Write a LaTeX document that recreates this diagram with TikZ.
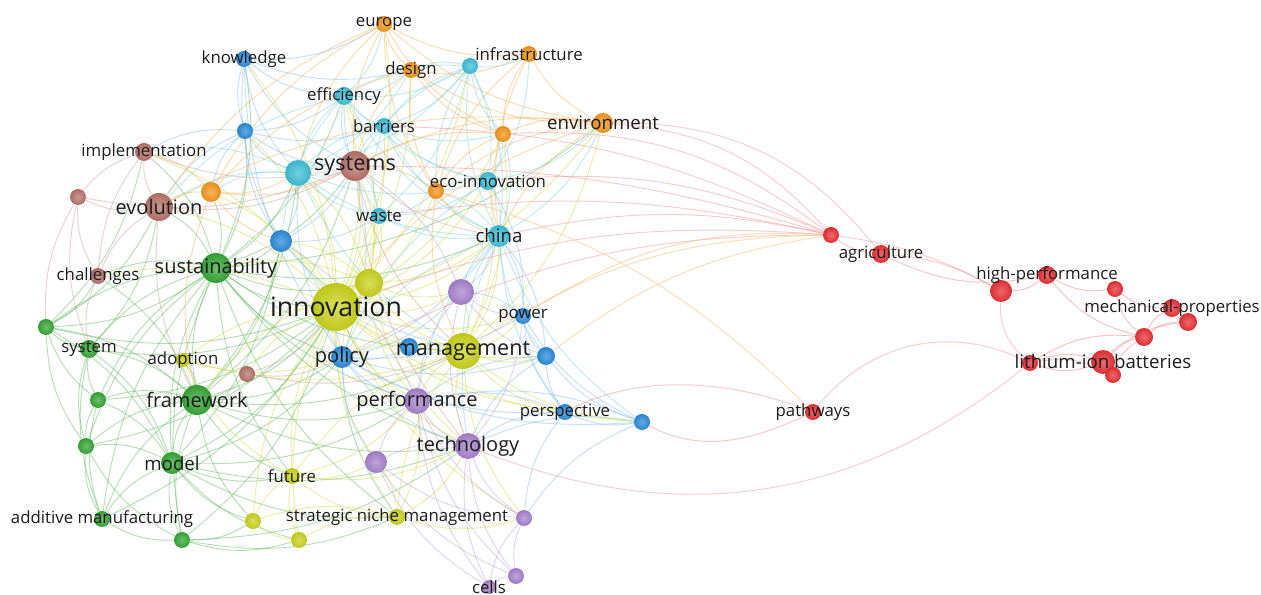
\documentclass[tikz,border=0pt]{standalone}
\usepackage{fontspec}
\setmainfont{Open Sans}
\usetikzlibrary{shadings}
\pgfdeclarelayer{bglayer}
\pgfdeclarelayer{edgelayer}
\pgfsetlayers{bglayer,edgelayer,main}
\definecolor{cRed}{HTML}{E63035}
\definecolor{cGreen}{HTML}{35A535}
\definecolor{cBlue}{HTML}{2A8AD8}
\definecolor{cYellow}{HTML}{C9D11C}
\definecolor{cPurple}{HTML}{A681CC}
\definecolor{cTeal}{HTML}{3EBDD6}
\definecolor{cOrange}{HTML}{F3961C}
\definecolor{cBrown}{HTML}{B6716A}
\definecolor{txt}{HTML}{1C1C1C}
\tikzset{
  bl/.style={circle, inner sep=0pt, draw=none, inner color=#1!72!white, outer color=#1!95!black},
  sz/.style={minimum size=#1*1.5pt},
  lbl/.style={text=txt, inner sep=0pt, anchor=center},
  lS/.style={lbl, font=\fontsize{12.6pt}{14pt}\selectfont},
  lM/.style={lbl, font=\fontsize{14pt}{16pt}\selectfont},
  lB/.style={lbl, font=\fontsize{15pt}{17pt}\selectfont},
  lL/.style={lbl, font=\fontsize{16.2pt}{18pt}\selectfont},
  lX/.style={lbl, font=\fontsize{20pt}{22pt}\selectfont},
  lnk/.style={draw=#1, line width=0.7pt, opacity=0.45},
}
\begin{document}
\begin{tikzpicture}[x=0.75pt, y=-0.75pt]
\begin{pgfonlayer}{bglayer}
\fill[white] (0,0) rectangle (1261,595);
\end{pgfonlayer}
\useasboundingbox (0,0) rectangle (1261,595);
% ---------------- nodes ----------------
% orange
\node[bl=cOrange, sz=8] (europe) at (384,24) {};
\node[bl=cOrange, sz=8] (design) at (411,70) {};
\node[bl=cOrange, sz=8] (infra) at (529,54) {};
\node[bl=cOrange, sz=10] (environ) at (603,123) {};
\node[bl=cOrange, sz=8] (o1) at (503,134) {};
\node[bl=cOrange, sz=8] (o2) at (436,191) {};
\node[bl=cOrange, sz=10] (o3) at (211,192) {};
% teal
\node[bl=cTeal, sz=8] (tinfra) at (470,66) {};
\node[bl=cTeal, sz=9] (effic) at (344,96) {};
\node[bl=cTeal, sz=8] (barriers) at (384,126) {};
\node[bl=cTeal, sz=13] (t1) at (298,173) {};
\node[bl=cTeal, sz=8] (waste) at (379,216) {};
\node[bl=cTeal, sz=11] (china) at (499,236) {};
\node[bl=cTeal, sz=9] (ecoinn) at (488,181) {};
% blue
\node[bl=cBlue, sz=8] (knowl) at (244,59) {};
\node[bl=cBlue, sz=8] (b1) at (245,131) {};
\node[bl=cBlue, sz=11] (b2) at (281,241) {};
\node[bl=cBlue, sz=11] (policy) at (342,357) {};
\node[bl=cBlue, sz=9] (b3) at (409,347) {};
\node[bl=cBlue, sz=8] (power) at (523,316) {};
\node[bl=cBlue, sz=9] (b4) at (546,356) {};
\node[bl=cBlue, sz=8] (persp) at (565,412) {};
\node[bl=cBlue, sz=8] (b5) at (642,422) {};
% brown
\node[bl=cBrown, sz=9] (impl) at (144,152) {};
\node[bl=cBrown, sz=8] (br1) at (78,197) {};
\node[bl=cBrown, sz=14] (evol) at (159,207) {};
\node[bl=cBrown, sz=8] (challenges) at (98,276) {};
\node[bl=cBrown, sz=8] (br2) at (247,374) {};
\node[bl=cBrown, sz=15] (systems) at (355,166) {};
% green
\node[bl=cGreen, sz=15] (sustain) at (216,268) {};
\node[bl=cGreen, sz=8] (g1) at (46,327) {};
\node[bl=cGreen, sz=9] (system) at (89,349) {};
\node[bl=cGreen, sz=8] (g2) at (98,400) {};
\node[bl=cGreen, sz=15] (framework) at (197,400) {};
\node[bl=cGreen, sz=8] (g3) at (86,446) {};
\node[bl=cGreen, sz=11] (model) at (172,463) {};
\node[bl=cGreen, sz=8] (additive) at (102,519) {};
\node[bl=cGreen, sz=8] (g4) at (182,540) {};
% yellow
\node[bl=cYellow, sz=24] (innov) at (336,307) {};
\node[bl=cYellow, sz=14] (y1) at (369,283) {};
\node[bl=cYellow, sz=7] (adoption) at (183,360) {};
\node[bl=cYellow, sz=18] (manage) at (463,351) {};
\node[bl=cYellow, sz=8] (future) at (292,476) {};
\node[bl=cYellow, sz=8] (y2) at (253,521) {};
\node[bl=cYellow, sz=8] (y3) at (299,540) {};
\node[bl=cYellow, sz=8] (snm) at (397,517) {};
% purple
\node[bl=cPurple, sz=13] (p1) at (461,292) {};
\node[bl=cPurple, sz=13] (perf) at (417,401) {};
\node[bl=cPurple, sz=13] (tech) at (468,446) {};
\node[bl=cPurple, sz=11] (p2) at (376,462) {};
\node[bl=cPurple, sz=8] (p3) at (524,518) {};
\node[bl=cPurple, sz=8] (p4) at (516,576) {};
\node[bl=cPurple, sz=7] (cells) at (489,587) {};
% red
\node[bl=cRed, sz=8] (r1) at (831,235) {};
\node[bl=cRed, sz=9] (agri) at (881,254) {};
\node[bl=cRed, sz=11] (hp1) at (1001,291) {};
\node[bl=cRed, sz=9] (hp) at (1047,275) {};
\node[bl=cRed, sz=8] (r3) at (1115,289) {};
\node[bl=cRed, sz=9] (r4) at (1172,308) {};
\node[bl=cRed, sz=9] (r5) at (1188,322) {};
\node[bl=cRed, sz=9] (r6) at (1144,337) {};
\node[bl=cRed, sz=12] (lib) at (1103,362) {};
\node[bl=cRed, sz=8] (r7) at (1113,375) {};
\node[bl=cRed, sz=8] (r8) at (1030,363) {};
\node[bl=cRed, sz=8] (pathways) at (813,412) {};
% ---------------- edges ----------------
\begin{pgfonlayer}{edgelayer}
\foreach \a/\b in {sustain/g1, sustain/system, sustain/g2, sustain/framework, sustain/model, sustain/g3, sustain/g4, sustain/additive, sustain/innov, sustain/evol, sustain/impl, sustain/challenges, sustain/policy, sustain/manage, sustain/perf, sustain/tech, sustain/systems, sustain/t1, sustain/b2, sustain/y1, sustain/china, sustain/environ, sustain/effic, sustain/knowl, sustain/o3, sustain/b1, sustain/future, sustain/snm,
framework/g1, framework/system, framework/g2, framework/g3, framework/model, framework/additive, framework/g4, framework/innov, framework/policy, framework/manage, framework/perf, framework/adoption, framework/challenges, framework/br2, framework/future, framework/y2, framework/tech, framework/b2, framework/systems, framework/t1,
model/g1, model/system, model/g2, model/g3, model/additive, model/g4, model/innov, model/policy, model/perf, model/y2, model/y3, model/snm, model/future, model/tech, model/b2,
g1/system, g1/g2, g1/g3, g1/evol, g1/challenges, g1/innov, g1/impl, g1/sustain, system/g2, system/g3, system/additive, system/innov, system/evol, g2/g3, g2/additive, g2/innov, g3/additive, g3/g4, g3/innov, additive/g4, additive/innov, g4/innov, g4/y2, g4/y3, g4/snm, g4/tech}
  \draw[lnk=cGreen!80!white] (\a) to[bend right=16] (\b);
\foreach \a/\b in {innov/y1, innov/manage, innov/policy, innov/perf, innov/tech, innov/systems, innov/t1, innov/b2, innov/waste, innov/china, innov/effic, innov/barriers, innov/knowl, innov/b1, innov/evol, innov/impl, innov/o3, innov/o2, innov/o1, innov/environ, innov/p1, innov/power, innov/b4, innov/persp, innov/b5, innov/p2, innov/future, innov/y2, innov/y3, innov/snm, innov/adoption, innov/br2, innov/challenges, innov/design, innov/europe, innov/tinfra, innov/ecoinn, innov/p3,
y1/manage, y1/policy, y1/perf, y1/systems, y1/china, y1/t1, y1/b2, y1/tech, y1/p1, y1/framework, y1/sustain, y1/waste, y1/effic,
manage/p1, manage/perf, manage/tech, manage/power, manage/b4, manage/persp, manage/b5, manage/china, manage/ecoinn, manage/o1, manage/snm, manage/future, manage/b3, manage/policy, manage/p3, manage/environ,
future/snm, future/y2, future/y3, future/perf, future/tech, future/p2, snm/y2, snm/y3, snm/p2, snm/tech, snm/perf, snm/p3, y2/y3, adoption/manage, adoption/policy, adoption/future}
  \draw[lnk=cYellow!85!white] (\a) to[bend right=16] (\b);
\foreach \a/\b in {policy/b3, policy/perf, policy/tech, policy/power, policy/b4, policy/persp, policy/b5, policy/china, policy/p1, policy/p2, policy/systems, policy/b2, policy/snm,
knowl/b1, knowl/t1, knowl/effic, knowl/systems, knowl/b2, knowl/policy, knowl/europe, knowl/design,
b1/t1, b1/systems, b1/b2, b1/effic, b1/barriers, b1/evol, b1/o3, b1/impl,
b2/t1, b2/systems, b2/waste, b2/manage,
power/b4, power/persp, power/b5, power/china, power/p1, power/ecoinn,
b4/persp, b4/b5, b4/tech, b4/perf, b4/china, persp/b5, persp/tech, persp/perf, persp/p3, b5/tech, b5/p3, b5/perf}
  \draw[lnk=cBlue!60!white] (\a) to[bend right=16] (\b);
\foreach \a/\b in {effic/barriers, effic/t1, effic/systems, effic/design, effic/europe, effic/tinfra, effic/ecoinn, effic/waste, effic/china, effic/b2, effic/evol,
barriers/t1, barriers/systems, barriers/tinfra, barriers/ecoinn, barriers/waste, barriers/china, barriers/o2, barriers/o1,
t1/systems, t1/waste, t1/china, t1/ecoinn, t1/tinfra, t1/design, t1/o3, t1/policy, t1/manage, t1/evol, t1/impl,
waste/china, waste/ecoinn, waste/systems, waste/o2, waste/tinfra,
china/ecoinn, china/tinfra, china/o1, china/o2, china/environ, china/persp, china/b5, china/p1, china/manage, china/policy, china/tech, china/perf, china/b4,
ecoinn/tinfra, ecoinn/o1, ecoinn/o2, ecoinn/environ, ecoinn/infra, ecoinn/policy,
tinfra/infra, tinfra/design, tinfra/o1, tinfra/o2, tinfra/systems, tinfra/effic, tinfra/china, tinfra/barriers}
  \draw[lnk=cTeal!70!white] (\a) to[bend right=16] (\b);
\foreach \a/\b in {europe/design, europe/infra, europe/environ, europe/o1, europe/o2, europe/o3, europe/systems, europe/t1, europe/evol,
design/infra, design/environ, design/o1, design/o2, design/systems, design/o3,
infra/environ, infra/o1, infra/o2, infra/china,
environ/o1, environ/o2, environ/systems, environ/innov, environ/evol, environ/china,
o1/o2, o1/systems, o1/china, o2/systems, o2/china, o2/manage, o3/evol, o3/impl, o3/systems, o3/framework, o3/t1, o3/b2}
  \draw[lnk=cOrange!75!white] (\a) to[bend right=16] (\b);
\foreach \a/\b in {impl/evol, impl/br1, impl/systems, impl/challenges, br1/evol, br1/challenges, br1/g1, br1/system, br1/systems,
evol/systems, evol/challenges, evol/framework, challenges/system, br2/innov, br2/policy, br2/manage,
systems/manage, systems/tech, systems/china}
  \draw[lnk=cBrown!70!white] (\a) to[bend right=16] (\b);
\foreach \a/\b in {p1/perf, p1/tech, p1/china, p1/systems, p1/power, p1/b4, perf/tech, perf/p2, perf/p3, perf/p4, perf/cells, perf/b2, tech/p2, tech/p3, tech/p4, tech/cells, tech/power, p2/p3, p2/cells, p2/p4, p3/p4, p3/cells, p4/cells}
  \draw[lnk=cPurple!75!white] (\a) to[bend right=16] (\b);
% long connectors to the red cluster
\foreach \a/\b/\ang in {environ/r1/22, environ/agri/26, o1/r1/20, barriers/r1/12, ecoinn/r1/14, china/r1/12, systems/r1/8, waste/r1/10, policy/r1/14, innov/r1/12, r1/hp1/10, agri/hp1/12}
  \draw[lnk=cRed!55!white] (\a) to[bend left=\ang] (\b);
\foreach \a/\b/\ang in {power/r1/18, manage/r1/16, b4/r1/14, o2/pathways/14}
  \draw[lnk=cOrange!70!white] (\a) to[bend left=\ang] (\b);
\draw[lnk=cRed!55!white] (hp1) to[bend right=25] (r8);
\draw[lnk=cRed!55!white] (r8) to[bend right=38] (pathways);
\draw[lnk=cRed!60!white] (persp) .. controls +(80,-40) and +(-80,-30) .. (pathways);
\draw[lnk=cRed!60!white] (b5) .. controls +(60,32) and +(-60,28) .. (pathways);
\draw[lnk=cRed!55!white] (tech) to[bend right=30] (r8);
\draw[lnk=cRed!55!white] (r1) to[bend right=14] (agri);
\foreach \a/\b in {agri/hp, hp1/hp, hp/r3, hp/r6, r3/r6, r3/r4, r4/r5, r4/r6, r5/r6, r5/lib, r6/lib, r6/r7, r6/r8, lib/r7, lib/r8, r8/lib, r7/r8}
  \draw[lnk=cRed!65!white] (\a) to[bend right=18] (\b);
\end{pgfonlayer}
% ---------------- labels ----------------
\node[lS] (Leurope) at (europe) {europe};
\node[lS] (Ldesign) at (design) {design};
\node[lS] (Linfra) at (infra) {infrastructure};
\node[lM] (Lenviron) at (environ) {environment};
\node[lS] (Leffic) at (effic) {efficiency};
\node[lS] (Lbarriers) at (barriers) {barriers};
\node[lL] (Lsystems) at (systems) {systems};
\node[lS] (Lecoinn) at (ecoinn) {eco-innovation};
\node[lS] (Lwaste) at (waste) {waste};
\node[lM] (Lchina) at (china) {china};
\node[lS] (Lknowl) at (knowl) {knowledge};
\node[lS] (Limpl) at (impl) {implementation};
\node[lB] (Levol) at (evol) {evolution};
\node[lS] (Lchallenges) at (challenges) {challenges};
\node[lB] (Lsustain) at (sustain) {sustainability};
\node[lS] (Lsystem) at (system) {system};
\node[lS] (Ladoption) at (adoption) {adoption};
\node[lB] (Lframework) at (framework) {framework};
\node[lM] (Lmodel) at (model) {model};
\node[lS] (Ladditive) at (additive) {additive manufacturing};
\node[lX] (Linnov) at (innov) {innovation};
\node[lB] (Lpolicy) at (policy) {policy};
\node[lL] (Lmanage) at (manage) {management};
\node[lS] (Lpower) at (power) {power};
\node[lB] (Lperf) at (perf) {performance};
\node[lS] (Lpersp) at (persp) {perspective};
\node[lB] (Ltech) at (tech) {technology};
\node[lS] (Lfuture) at (future) {future};
\node[lS] (Lsnm) at (snm) {strategic niche management};
\node[lS] (Lcells) at (cells) {cells};
\node[lS] (Lagri) at (agri) {agriculture};
\node[lS] (Lhp) at (hp) {high-performance};
\node[lS] (Lmech) at (r4) {mechanical-properties};
\node[lM] (Llib) at (lib) {lithium-ion batteries};
\node[lS] (Lpathways) at (pathways) {pathways};
\end{tikzpicture}
\end{document}
